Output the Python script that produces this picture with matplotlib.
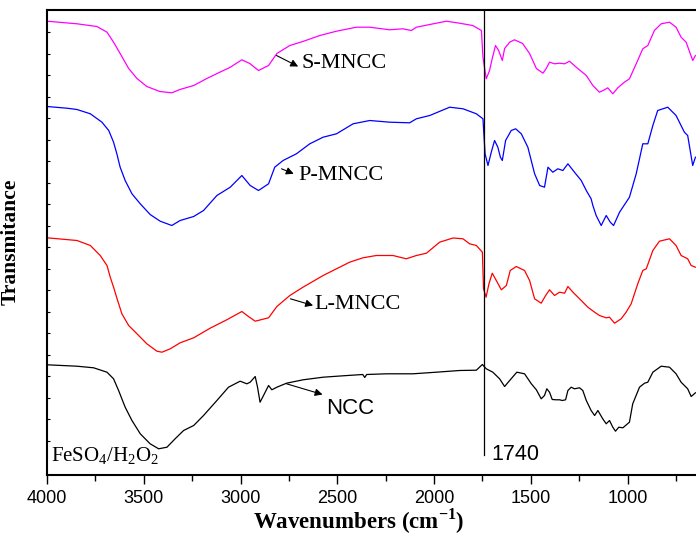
import numpy as np
import matplotlib
matplotlib.use("Agg")
import matplotlib.pyplot as plt
from matplotlib.ticker import MultipleLocator

# FTIR spectra (arbitrary transmittance units, offset per sample)
s_wn = [4000, 3845, 3742, 3690, 3656, 3622, 3578, 3535, 3484, 3417, 3355, 3313, 3242, 3174, 3107,
        3055, 2993, 2952, 2907, 2855, 2812, 2745, 2678, 2590, 2504, 2401, 2332, 2229, 2162, 2117,
        2091, 2022, 1936, 1868, 1800, 1755, 1747, 1730, 1713, 1699, 1682, 1666, 1647, 1635, 1609,
        1584, 1542, 1506, 1471, 1437, 1420, 1403, 1377, 1351, 1325, 1300, 1265, 1213, 1179, 1145,
        1119, 1102, 1076, 1050, 1016, 990, 955, 921, 895, 861, 826, 783, 749, 723, 697, 663, 649]
s_t = [453.3, 450.7, 448, 442.3, 432.3, 421, 406, 396, 388, 383, 381.7, 385, 389, 396, 402.3,
       407, 414.7, 411, 404, 409, 421, 429, 433, 439, 443.3, 447.3, 447.3, 444.7, 445.7, 444,
       447.3, 450, 453.3, 451.3, 449, 444, 417.3, 395.7, 404, 416, 429, 424, 414, 426, 432.3,
       434.7, 431, 421, 406, 401.3, 406, 412.3, 410.7, 411.3, 410.7, 413.3, 407.3, 399, 389, 382.3,
       384.7, 386.7, 380.7, 386.7, 392.3, 395.7, 410.7, 425.7, 429, 444, 450.7, 452.3, 447.3, 437.3, 432.3, 414, 419]

p_wn = [4000, 3897, 3845, 3776, 3716, 3681, 3656, 3639, 3622, 3596, 3561, 3518, 3467, 3415, 3355,
        3312, 3242, 3191, 3122, 3053, 2993, 2950, 2907, 2855, 2823, 2780, 2711, 2642, 2573, 2504,
        2418, 2332, 2229, 2126, 2091, 2022, 1919, 1850, 1781, 1747, 1736, 1721, 1704, 1687, 1670,
        1657, 1647, 1630, 1601, 1578, 1549, 1515, 1480, 1454, 1429, 1411, 1386, 1360, 1334, 1308,
        1274, 1239, 1213, 1188, 1179, 1162, 1136, 1110, 1089, 1072, 1041, 1007, 990, 955, 921,
        895, 869, 844, 792, 749, 706, 689, 663, 649]
p_t = [368, 366.3, 365, 360.7, 352.3, 344, 332.3, 320.7, 307.3, 294, 280.7, 270.7, 260, 253.3, 249,
       254, 258, 264, 279, 287.3, 299, 289, 284, 290.7, 307.3, 314, 320.7, 330.7, 337.3, 340.7,
       350.7, 354, 352.3, 351.7, 355.7, 359, 367.3, 365.7, 360.7, 355.7, 320.7, 309, 322.3, 334, 327.3,
       317.3, 314, 334, 344, 345.7, 340.7, 327.3, 300.7, 289, 287.3, 307.3, 302.3, 305.7, 304, 310.7,
       302.3, 294, 284, 275.7, 269, 259, 249, 259, 252.3, 249, 262.3, 272.3, 277.3, 300.7, 330.7,
       330.7, 349, 364, 367.3, 359, 342.3, 339, 309, 317.3]

l_wn = [4000, 3845, 3776, 3725, 3690, 3673, 3656, 3635, 3613, 3578, 3535, 3484, 3432, 3406, 3363,
        3312, 3242, 3157, 3071, 2993, 2959, 2924, 2855, 2812, 2745, 2677, 2573, 2504, 2436, 2367,
        2298, 2212, 2143, 2091, 2039, 1971, 1902, 1850, 1816, 1781, 1750, 1744, 1731, 1716, 1699,
        1678, 1652, 1626, 1606, 1575, 1532, 1506, 1480, 1446, 1423, 1403, 1377, 1351, 1325, 1308,
        1282, 1239, 1205, 1170, 1145, 1110, 1093, 1067, 1033, 1007, 981, 947, 921, 903, 869,
        835, 783, 749, 723, 689, 671, 649]
l_t = [236.7, 234, 229, 219, 209, 197.3, 187.3, 174, 160.7, 149, 140.7, 130.7, 123.3, 122.3, 125.7,
       131.7, 136.7, 146.3, 154.7, 163, 158, 153.3, 156.7, 168, 179, 187.3, 199, 205.7, 212.3, 216.7,
       219, 219, 215.7, 219, 221.3, 232.3, 236.5, 235.7, 230.7, 229, 222.3, 185.7, 177.3, 190.7, 201.3,
       194, 184.7, 189, 204, 208, 204, 194, 175.7, 171.3, 179, 184.7, 179, 182.3, 181.3, 188,
       182.3, 174, 167.3, 162.3, 159, 156.7, 157.3, 151.3, 155.7, 162.3, 170.7, 190.7, 204, 205.7, 224,
       233.3, 235.7, 229, 219, 215.7, 209, 207.3]

n_wn = [4000, 3845, 3759, 3690, 3656, 3630, 3596, 3561, 3518, 3467, 3423, 3380, 3338, 3294, 3242,
        3191, 3122, 3062, 3002, 2967, 2950, 2924, 2912, 2899, 2881, 2855, 2838, 2812, 2762, 2677,
        2573, 2470, 2368, 2358, 2348, 2246, 2109, 1988, 1868, 1781, 1750, 1730, 1696, 1661, 1635,
        1609, 1572, 1532, 1497, 1471, 1446, 1429, 1417, 1403, 1389, 1368, 1351, 1337, 1320, 1308,
        1291, 1274, 1248, 1231, 1213, 1188, 1170, 1153, 1128, 1110, 1093, 1076, 1062, 1045, 1024,
        990, 973, 938, 912, 895, 869, 826, 783, 749, 723, 689, 671, 649]
n_t = [109.7, 108.3, 106.7, 102.3, 95.7, 84, 67.3, 54, 40.7, 30.7, 25.7, 27.3, 35.7, 44, 49,
       59, 74, 87.3, 93.3, 90.7, 92.3, 98, 87.3, 72.3, 79, 89, 84.7, 87.3, 91.3, 94.7,
       97.3, 98.7, 100, 97, 100, 100.7, 100.7, 102.3, 104, 104.3, 110, 105.7, 102.3, 95.7, 88,
       94, 102.3, 100.7, 90.7, 84.7, 75.7, 79, 85.7, 82.3, 75, 74.7, 74.7, 74, 74.7, 84,
       87.3, 85.7, 86.7, 84, 74, 64, 59, 64, 55.7, 50.7, 54, 47.3, 43.3, 47.3, 46.7,
       52.3, 70.7, 87.3, 91.3, 92.3, 102.3, 108.3, 107.3, 100.7, 92.3, 85.7, 78, 81.7]

marker_wn = 1740

plt.rcParams["mathtext.fontset"] = "custom"
plt.rcParams["mathtext.rm"] = "Liberation Serif"
plt.rcParams["mathtext.bf"] = "Liberation Serif:bold"

fig = plt.figure(figsize=(6.96, 5.35), dpi=100)
ax = fig.add_axes([47 / 696, 60.5 / 535, 649 / 696, 464.5 / 535])

ax.plot(s_wn, s_t, color="#FF00FF", lw=0.9)
ax.plot(p_wn, p_t, color="#0000FF", lw=0.9)
ax.plot(l_wn, l_t, color="#FF0000", lw=0.9)
ax.plot(n_wn, n_t, color="black", lw=0.9)

ax.plot([marker_wn, marker_wn], [20, 464.5], color="black", lw=0.9)

ax.set_xlim(4000, 646)
ax.set_ylim(0, 464.5)

# sample labels with little arrows
arrow = dict(arrowstyle="-|>", color="black", lw=0.8, mutation_scale=11, shrinkA=0, shrinkB=0)
serif = "Liberation Serif"
ax.annotate("", xy=(2702, 408), xytext=(2814, 419), arrowprops=arrow)
ax.text(2685, 411, "S-MNCC", family=serif, fontsize=16, va="center", ha="left")
ax.annotate("", xy=(2725, 300.7), xytext=(2788, 305.7), arrowprops=arrow)
ax.text(2702, 299, "P-MNCC", family=serif, fontsize=16, va="center", ha="left")
ax.annotate("", xy=(2625, 169), xytext=(2742, 175.7), arrowprops=arrow)
ax.text(2620, 170, "L-MNCC", family=serif, fontsize=16, va="center", ha="left")
ax.annotate("", xy=(2576, 80), xytext=(2762, 90.7), arrowprops=arrow)
ax.text(2556, 65.7, "NCC", family="Liberation Sans", fontsize=16, va="center", ha="left")

ax.text(3981, 13.3, "FeSO$_4$/H$_2$O$_2$", family=serif, fontsize=15, va="baseline", ha="left")
ax.text(1702, 19.5, "1740", family="Liberation Sans", fontsize=15.5, va="center", ha="left")

# axes styling
ax.xaxis.set_major_locator(MultipleLocator(500))
ax.xaxis.set_minor_locator(MultipleLocator(250))
ax.tick_params(axis="x", which="major", direction="out", length=6.5, width=1.0, pad=5,
               labelsize=13, top=False)
ax.tick_params(axis="x", which="minor", direction="out", length=4.3, width=1.0, top=False)
for lab in ax.get_xticklabels():
    lab.set_family("Liberation Sans")

ax.set_yticks(np.arange(34, 464, 21.5))
ax.tick_params(axis="y", which="major", direction="in", length=2.5, width=0.8, labelleft=False)

for side in ["left", "bottom", "top"]:
    ax.spines[side].set_linewidth(1.5)
ax.spines["right"].set_visible(False)

ax.set_xlabel("Wavenumbers (cm$^{\\mathbf{-1}}$)", family=serif, fontweight="bold", fontsize=16.5)
ax.xaxis.set_label_coords(0.48, -0.068)
ax.set_ylabel("Transmitance", family=serif, fontweight="bold", fontsize=15.5)
ax.yaxis.set_label_coords(-0.041, 0.5)

fig.savefig("out.png", dpi=100)
